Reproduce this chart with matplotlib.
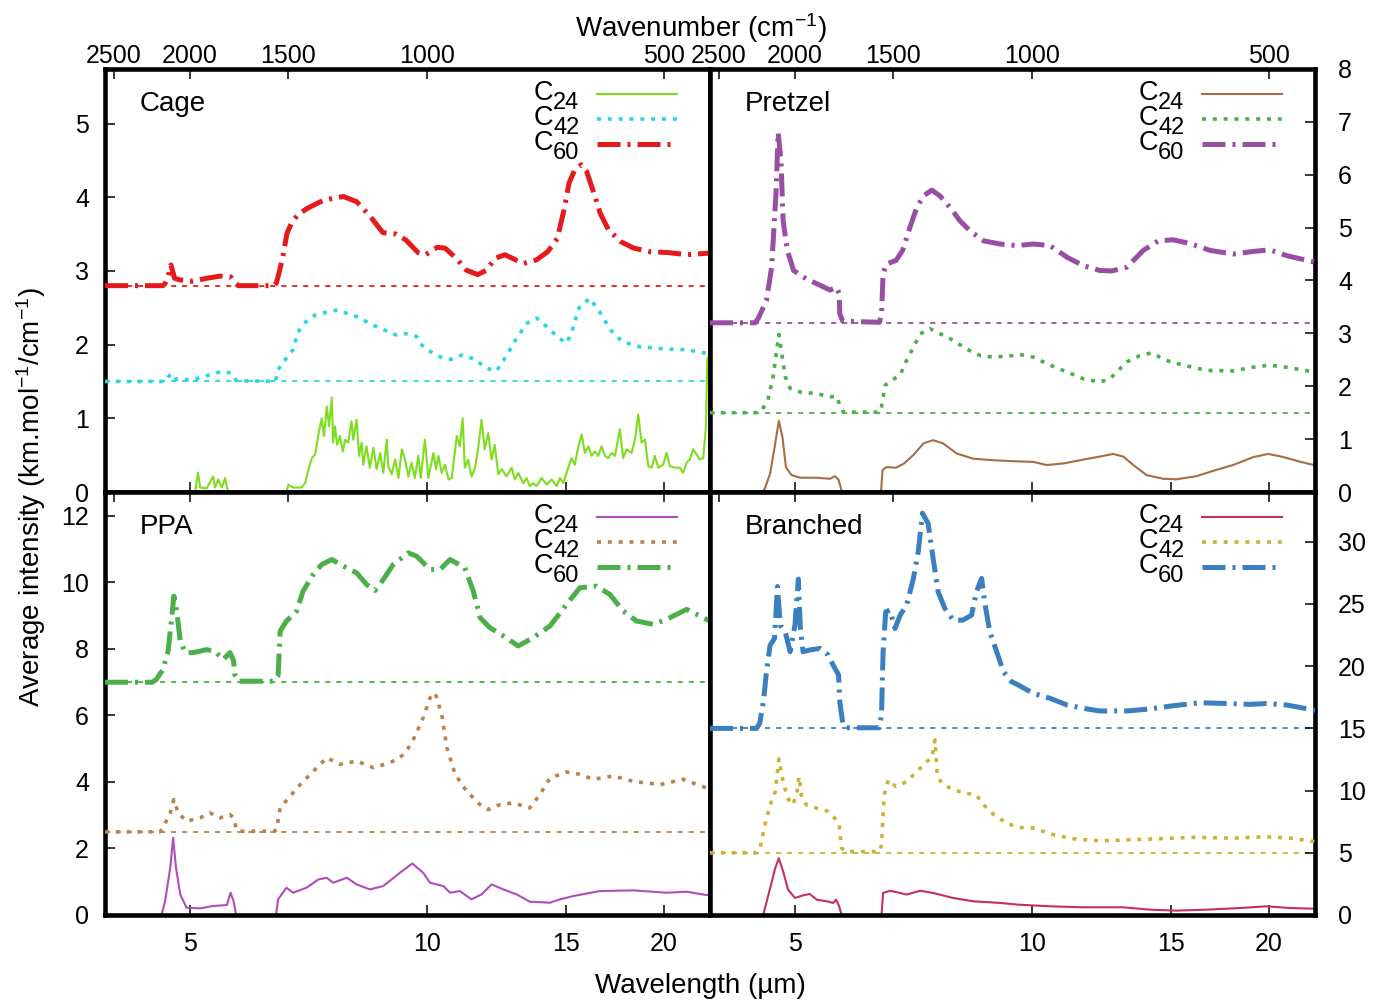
import matplotlib
matplotlib.use("Agg")
import matplotlib.pyplot as plt
from matplotlib.ticker import FixedLocator, NullLocator, FixedFormatter

plt.rcParams['font.family'] = ['Liberation Sans', 'DejaVu Sans']
plt.rcParams['mathtext.default'] = 'regular'

# ---------------- axis data ----------------
x_range = [3.9, 22.88]                     # wavelength (um), log axis
wavelength_ticks = [5, 10, 15, 20]
wavenumber_ticks = [2500, 2000, 1500, 1000, 500]
series_labels = ['24', '42', '60']

# ---------------- Cage ----------------
cage_offsets = [0.0, 1.5, 2.8]
cage_c24_wl = [3.9, 5.06, 5.08, 5.12, 5.15, 5.25, 5.35, 5.38, 5.43, 5.49, 5.54, 5.58, 5.60,
               6.63, 6.67, 6.76, 6.93, 7.00, 7.07, 7.14, 7.21, 7.28, 7.35, 7.40, 7.46, 7.51,
               7.57, 7.60, 7.64, 7.69, 7.75, 7.82, 7.87, 7.94, 8.02, 8.06, 8.14, 8.20, 8.26,
               8.30, 8.38, 8.46, 8.55, 8.63, 8.72, 8.80, 8.89, 8.93, 9.02, 9.11, 9.20, 9.29,
               9.38, 9.47, 9.56, 9.65, 9.75, 9.82, 9.94, 10.04, 10.19, 10.27, 10.34, 10.44,
               10.54, 10.65, 10.75, 10.91, 11.01, 11.10, 11.17, 11.28, 11.39, 11.50, 11.61,
               11.73, 11.84, 11.96, 12.08, 12.19, 12.32, 12.44, 12.62, 12.81, 12.93, 13.06,
               13.25, 13.38, 13.51, 13.64, 13.78, 13.98, 14.19, 14.40, 14.61, 14.75, 14.90,
               15.04, 15.26, 15.41, 15.57, 15.72, 15.87, 16.03, 16.18, 16.34, 16.50, 16.66,
               16.83, 16.99, 17.16, 17.33, 17.58, 17.75, 17.93, 18.19, 18.37, 18.55, 18.73,
               18.92, 19.10, 19.29, 19.47, 19.67, 19.95, 20.15, 20.35, 20.65, 20.95, 21.15,
               21.37, 21.57, 21.78, 22.00, 22.21, 22.43, 22.61, 22.70, 22.88]
cage_c24_val = [0, 0, 0.03, 0.26, 0.06, 0.05, 0.21, 0.06, 0.17, 0.06, 0.19, 0.03, 0,
                0, 0.10, 0.06, 0.06, 0.12, 0.30, 0.46, 0.51, 0.78, 1.00, 0.76, 1.16, 0.89,
                1.28, 0.67, 0.89, 0.64, 0.76, 0.55, 0.71, 0.67, 0.96, 0.71, 0.98, 0.49, 0.67,
                0.37, 0.62, 0.33, 0.60, 0.31, 0.53, 0.26, 0.71, 0.35, 0.24, 0.44, 0.19, 0.58,
                0.44, 0.21, 0.40, 0.19, 0.49, 0.19, 0.71, 0.19, 0.53, 0.31, 0.49, 0.26,
                0.37, 0.17, 0.19, 0.76, 0.62, 1.00, 0.33, 0.44, 0.21, 0.31, 0.58,
                0.98, 0.58, 0.80, 0.44, 0.64, 0.24, 0.31, 0.21, 0.33, 0.17, 0.26,
                0.12, 0.19, 0.08, 0.12, 0.08, 0.19, 0.10, 0.17, 0.08, 0.19, 0.12,
                0.26, 0.46, 0.37, 0.62, 0.78, 0.53, 0.62, 0.49, 0.55, 0.49, 0.62,
                0.49, 0.46, 0.53, 0.49, 0.85, 0.46, 0.58, 0.53, 0.71, 1.05, 0.67,
                0.71, 0.35, 0.33, 0.49, 0.33, 0.37, 0.53, 0.35, 0.33, 0.33, 0.26,
                0.40, 0.44, 0.58, 0.51, 0.44, 0.46, 0.89, 1.80, 1.88]
cage_c42_wl = [3.9, 4.65, 4.73, 4.80, 5.03, 5.30, 5.51, 5.65, 5.73, 6.42, 6.47, 6.61, 6.76,
               6.85, 6.98, 7.23, 7.70, 8.14, 8.60, 9.14, 9.40, 9.70, 9.79, 10.0, 10.46, 10.72,
               11.1, 11.5, 11.9, 12.25, 12.6, 13.0, 13.4, 13.78, 14.17, 14.7, 15.05, 15.3,
               15.6, 16.1, 16.6, 17.1, 17.7, 18.65, 20.2, 21.4, 22.7, 22.88]
cage_c42_val = [0, 0, 0.11, 0.03, 0.02, 0.09, 0.14, 0.11, 0.01, 0, 0.16, 0.30, 0.43,
                0.66, 0.79, 0.91, 0.97, 0.88, 0.75, 0.63, 0.65, 0.61, 0.52, 0.43, 0.32, 0.30,
                0.36, 0.30, 0.18, 0.14, 0.34, 0.59, 0.79, 0.86, 0.75, 0.59, 0.52, 0.70,
                1.00, 1.13, 0.93, 0.70, 0.54, 0.47, 0.44, 0.43, 0.38, 0.38]
cage_c60_wl = [3.9, 4.62, 4.65, 4.69, 4.73, 4.78, 4.85, 5.03, 5.25, 5.46, 5.63, 5.70, 5.76,
               6.40, 6.44, 6.50, 6.56, 6.64, 6.73, 6.85, 7.05, 7.39, 7.83, 8.14, 8.47, 8.79,
               9.14, 9.40, 9.74, 9.96, 10.3, 10.54, 10.9, 11.22, 11.6, 11.9, 12.2, 12.56,
               12.9, 13.25, 13.78, 14.23, 14.64, 14.93, 15.15, 15.4, 15.7, 15.95, 16.3,
               16.6, 17.0, 17.6, 18.3, 19.2, 20.2, 21.4, 22.7, 22.88]
cage_c60_val = [0, 0, 0.03, 0.12, 0.28, 0.10, 0.08, 0.06, 0.10, 0.13, 0.12, 0.04, 0,
                0, 0.04, 0.21, 0.39, 0.71, 0.85, 0.96, 1.05, 1.16, 1.21, 1.14, 0.94, 0.72,
                0.70, 0.62, 0.45, 0.42, 0.52, 0.51, 0.37, 0.21, 0.15, 0.21, 0.37, 0.42,
                0.36, 0.30, 0.35, 0.46, 0.64, 1.03, 1.39, 1.57, 1.64, 1.55, 1.25,
                0.98, 0.76, 0.60, 0.51, 0.46, 0.45, 0.42, 0.44, 0.44]

# ---------------- Pretzel ----------------
pretzel_offsets = [0.0, 1.5, 3.2]
pretzel_c24_wl = [3.9, 4.55, 4.58, 4.65, 4.72, 4.77, 4.82, 4.87, 4.95, 5.08, 5.33, 5.54, 5.62,
                  5.68, 5.73, 5.76, 6.43, 6.46, 6.53, 6.72, 6.88, 7.07, 7.28, 7.49, 7.71, 8.02,
                  8.42, 8.95, 9.56, 10.04, 10.44, 10.96, 11.50, 12.19, 12.68, 13.06, 13.45,
                  13.98, 14.68, 15.26, 16.18, 16.99, 18.0, 19.1, 19.95, 20.87, 21.93, 22.8, 22.88]
pretzel_c24_val = [0, 0, 0.07, 0.35, 0.92, 1.35, 1.04, 0.47, 0.32, 0.27, 0.27, 0.25, 0.30,
                   0.23, 0.03, 0, 0, 0.41, 0.47, 0.46, 0.54, 0.70, 0.92, 0.98, 0.92, 0.73,
                   0.63, 0.60, 0.58, 0.57, 0.51, 0.54, 0.60, 0.67, 0.72, 0.67, 0.51,
                   0.32, 0.25, 0.24, 0.30, 0.40, 0.51, 0.66, 0.72, 0.66, 0.57, 0.51, 0.50]
pretzel_c42_wl = [3.9, 4.50, 4.54, 4.62, 4.69, 4.74, 4.77, 4.81, 4.86, 4.93, 5.08, 5.33, 5.54,
                  5.65, 5.70, 5.76, 6.40, 6.44, 6.51, 6.63, 6.80, 6.93, 7.07, 7.21, 7.42, 7.65,
                  7.94, 8.24, 8.60, 8.95, 9.47, 9.65, 10.04, 10.54, 11.08, 11.62, 12.19, 12.56,
                  13.19, 13.71, 14.19, 14.8, 15.56, 16.67, 18.0, 19.1, 20.05, 21.27, 22.8, 22.88]
pretzel_c42_val = [0, 0, 0.05, 0.24, 0.68, 1.18, 1.48, 1.12, 0.68, 0.46, 0.39, 0.36, 0.30,
                   0.31, 0.14, 0.01, 0.01, 0.11, 0.52, 0.61, 0.71, 0.99, 1.24, 1.49, 1.59, 1.49,
                   1.37, 1.21, 1.08, 1.05, 1.08, 1.10, 1.05, 0.90, 0.77, 0.64, 0.58, 0.64,
                   0.96, 1.08, 1.13, 0.99, 0.90, 0.80, 0.79, 0.86, 0.90, 0.85, 0.77, 0.76]
pretzel_c60_wl = [3.9, 4.45, 4.49, 4.60, 4.67, 4.73, 4.76, 4.80, 4.83, 4.89, 4.98, 5.17, 5.38,
                  5.54, 5.65, 5.69, 5.70, 5.75, 6.40, 6.44, 6.47, 6.53, 6.72, 6.85, 7.00, 7.14,
                  7.28, 7.46, 7.64, 7.87, 8.10, 8.34, 8.68, 9.11, 9.56, 10.04, 10.54, 11.08,
                  11.62, 12.19, 12.62, 13.19, 13.85, 14.47, 15.11, 15.87, 16.83, 18.0, 19.1,
                  20.05, 21.07, 22.8, 22.88]
pretzel_c60_val = [0, 0, 0.08, 0.42, 1.05, 2.44, 3.60, 3.06, 1.93, 1.37, 0.99, 0.83, 0.71,
                   0.62, 0.67, 0.55, 0.17, 0.03, 0.01, 0.14, 0.93, 1.11, 1.18, 1.37, 1.81, 2.18,
                   2.40, 2.51, 2.40, 2.18, 1.93, 1.74, 1.55, 1.49, 1.46, 1.49, 1.46, 1.24,
                   1.08, 0.99, 0.98, 1.05, 1.37, 1.55, 1.57, 1.50, 1.37, 1.30, 1.35,
                   1.38, 1.27, 1.15, 1.14]

# ---------------- PPA ----------------
ppa_offsets = [0.0, 2.5, 7.0]
ppa_c24_wl = [3.9, 4.60, 4.65, 4.72, 4.76, 4.80, 4.86, 4.95, 5.15, 5.35, 5.57, 5.63, 5.68,
              5.72, 5.75, 6.43, 6.47, 6.63, 6.76, 7.03, 7.28, 7.46, 7.60, 7.91, 8.14, 8.46,
              8.80, 9.24, 9.58, 9.89, 10.09, 10.49, 10.70, 11.01, 11.39, 11.73, 12.08, 12.50,
              13.0, 13.51, 14.33, 14.75, 15.34, 16.58, 18.28, 20.15, 21.37, 22.65, 22.88]
ppa_c24_val = [0, 0, 0.42, 1.42, 2.32, 1.42, 0.62, 0.22, 0.20, 0.27, 0.30, 0.67, 0.42,
               0.02, 0, 0, 0.47, 0.82, 0.67, 0.82, 1.07, 1.12, 0.97, 1.12, 0.92, 0.77,
               0.87, 1.27, 1.55, 1.27, 0.97, 0.87, 0.67, 0.72, 0.47, 0.62, 0.92, 0.77,
               0.62, 0.40, 0.37, 0.47, 0.57, 0.72, 0.74, 0.67, 0.70, 0.60, 0.60]
ppa_c42_wl = [3.9, 4.58, 4.62, 4.72, 4.77, 4.83, 4.95, 5.15, 5.30, 5.46, 5.62, 5.68, 5.73,
              5.78, 6.40, 6.44, 6.51, 6.70, 6.90, 7.17, 7.46, 7.75, 8.14, 8.55, 8.97, 9.24,
              9.42, 9.61, 9.89, 10.09, 10.24, 10.44, 10.60, 10.86, 11.23, 11.68, 11.96,
              12.38, 12.87, 13.51, 13.91, 14.33, 15.04, 15.64, 16.26, 17.24, 18.28, 19.76,
              21.15, 22.65, 22.88]
ppa_c42_val = [0, 0, 0.12, 0.57, 0.97, 0.57, 0.32, 0.42, 0.57, 0.42, 0.52, 0.42, 0.07,
               0.02, 0.02, 0.07, 0.72, 1.07, 1.42, 1.82, 2.23, 2.03, 2.13, 1.93, 2.08, 2.23,
               2.43, 2.78, 3.43, 4.03, 4.18, 3.53, 2.53, 1.73, 1.22, 0.82, 0.67,
               0.82, 0.87, 0.72, 1.12, 1.62, 1.80, 1.73, 1.58, 1.68, 1.52, 1.42,
               1.58, 1.32, 1.30]
ppa_c60_wl = [3.9, 4.48, 4.53, 4.62, 4.69, 4.74, 4.77, 4.81, 4.86, 4.93, 5.05, 5.25, 5.38,
              5.51, 5.62, 5.68, 5.70, 5.76, 6.38, 6.47, 6.51, 6.63, 6.83, 6.96, 7.17, 7.35,
              7.57, 7.83, 8.14, 8.38, 8.59, 8.80, 9.06, 9.47, 9.70, 10.09, 10.39, 10.70,
              11.17, 11.45, 11.68, 12.02, 12.50, 13.06, 13.64, 14.33, 15.04, 15.64, 16.42,
              17.07, 17.75, 18.46, 19.38, 20.15, 21.37, 22.65, 22.88]
ppa_c60_val = [0, 0, 0.08, 0.38, 0.93, 1.94, 2.59, 2.14, 1.24, 0.89, 0.89, 0.98, 0.93,
               0.68, 0.89, 0.65, 0.23, 0.03, 0.03, 0.20, 1.54, 1.84, 2.14, 2.74, 3.24, 3.54,
               3.69, 3.49, 3.29, 2.94, 2.76, 3.09, 3.54, 3.89, 3.79, 3.39, 3.39, 3.69,
               3.44, 2.74, 1.94, 1.64, 1.39, 1.09, 1.34, 1.69, 2.34, 2.84, 2.89,
               2.64, 2.14, 1.84, 1.74, 1.89, 2.19, 1.89, 1.85]

# ---------------- Branched ----------------
branched_offsets = [0.0, 5.0, 15.0]
branched_c24_wl = [3.9, 4.53, 4.56, 4.65, 4.72, 4.77, 4.83, 4.90, 5.00, 5.12, 5.22, 5.33, 5.49,
                   5.59, 5.64, 5.69, 5.73, 5.76, 6.44, 6.47, 6.60, 6.80, 6.93, 7.21, 7.49, 7.94,
                   8.42, 9.11, 9.61, 10.54, 11.62, 13.06, 14.12, 15.26, 16.67, 18.37, 19.86,
                   21.27, 22.8, 22.88]
branched_c24_val = [0, 0, 0.07, 2.17, 3.77, 4.57, 3.50, 2.04, 1.37, 1.58, 1.69, 1.23, 1.10,
                    0.97, 1.23, 0.70, 0.03, 0, 0, 1.77, 1.95, 1.77, 1.64, 1.95, 1.77, 1.37,
                    1.10, 0.97, 0.83, 0.70, 0.62, 0.62, 0.43, 0.35, 0.43, 0.56, 0.70,
                    0.56, 0.51, 0.50]
branched_c42_wl = [3.9, 4.47, 4.51, 4.58, 4.65, 4.72, 4.77, 4.82, 4.89, 4.97, 5.03, 5.06, 5.10,
                   5.17, 5.33, 5.49, 5.62, 5.69, 5.73, 5.80, 6.40, 6.44, 6.49, 6.57, 6.72, 6.93,
                   7.14, 7.35, 7.46, 7.53, 7.58, 7.68, 7.94, 8.24, 8.50, 8.68, 8.95, 9.29, 9.61,
                   10.04, 10.65, 11.28, 12.19, 13.19, 14.54, 16.03, 18.0, 19.86, 21.27, 22.8, 22.88]
branched_c42_val = [0, 0, 0.24, 2.25, 3.85, 4.92, 7.54, 6.00, 4.40, 3.85, 4.92, 6.12, 4.40,
                    3.85, 3.58, 3.37, 2.78, 2.25, 0.38, 0.10, 0.10, 0.64, 4.65, 5.86, 5.32, 5.72,
                    6.53, 7.33, 7.60, 9.07, 6.25, 5.58, 5.06, 4.79, 4.65, 3.85, 3.05, 2.38, 2.03,
                    1.99, 1.45, 1.13, 0.96, 1.04, 1.13, 1.24, 1.18, 1.29, 1.18, 0.91, 0.90]
branched_c60_wl = [3.9, 4.47, 4.51, 4.56, 4.60, 4.65, 4.71, 4.75, 4.79, 4.86, 4.93, 5.00, 5.05,
                   5.08, 5.12, 5.22, 5.38, 5.51, 5.59, 5.68, 5.70, 5.75, 5.82, 6.40, 6.44, 6.47,
                   6.52, 6.60, 6.70, 6.80, 6.93, 7.07, 7.17, 7.26, 7.38, 7.49, 7.60, 7.75, 7.94,
                   8.17, 8.38, 8.50, 8.63, 8.71, 8.84, 9.02, 9.20, 9.42, 9.61, 10.04, 10.54,
                   11.08, 11.62, 12.19, 13.19, 14.12, 15.11, 16.34, 17.67, 18.92, 19.86, 21.07,
                   22.8, 22.88]
branched_c60_val = [0, 0, 0.41, 2.15, 4.55, 6.69, 7.23, 11.4, 8.30, 7.76, 6.16, 8.30, 12.0,
                    8.03, 6.16, 6.30, 6.43, 5.90, 5.09, 4.30, 2.15, 0.41, 0.05, 0.05, 1.08, 6.16,
                    9.37, 9.50, 8.03, 9.10, 9.91, 12.05, 14.18, 17.3, 16.47, 13.65, 10.97, 9.64,
                    8.70, 8.70, 9.10, 10.97, 12.05, 10.10, 7.76, 6.16, 4.55, 3.75, 3.48, 2.82,
                    2.42, 1.88, 1.61, 1.40, 1.40, 1.56, 1.82, 2.06, 2.00, 1.93, 2.00, 1.88,
                    1.47, 1.45]

# ---------------- styles ----------------
panel_titles = ['Cage', 'Pretzel', 'PPA', 'Branched']
panel_colors = [['#7fdd20', '#27d7e0', '#e41a1c'],
                ['#a66d45', '#4daf4a', '#984ea3'],
                ['#b04dbb', '#b8824e', '#4daf4a'],
                ['#c4305e', '#c9b234', '#3a80c0']]
panel_ylims = [(0, 5.74), (0, 8.0), (0, 12.72), (0, 34.0)]
panel_yticks = [[0, 1, 2, 3, 4, 5], [0, 1, 2, 3, 4, 5, 6, 7, 8],
                [0, 2, 4, 6, 8, 10, 12], [0, 5, 10, 15, 20, 25, 30]]

line_styles = [dict(lw=1.5, ls='-'),
               dict(lw=2.6, ls=(0, (1.1, 1.9)), dash_capstyle='butt'),
               dict(lw=3.6, ls=(0, (4.6, 1.4, 0.6, 1.4)), dash_capstyle='butt')]

W, H = 1391, 1007
fig = plt.figure(figsize=(W / 100, H / 100), dpi=100)

def fx(px):
    return px / W

def fy(py):
    return 1 - py / H

boxes = [(105, 69, 710, 492), (710, 69, 1315, 492), (105, 492, 710, 915), (710, 492, 1315, 915)]

panels = [
    (cage_offsets, [(cage_c24_wl, cage_c24_val), (cage_c42_wl, cage_c42_val), (cage_c60_wl, cage_c60_val)]),
    (pretzel_offsets, [(pretzel_c24_wl, pretzel_c24_val), (pretzel_c42_wl, pretzel_c42_val), (pretzel_c60_wl, pretzel_c60_val)]),
    (ppa_offsets, [(ppa_c24_wl, ppa_c24_val), (ppa_c42_wl, ppa_c42_val), (ppa_c60_wl, ppa_c60_val)]),
    (branched_offsets, [(branched_c24_wl, branched_c24_val), (branched_c42_wl, branched_c42_val), (branched_c60_wl, branched_c60_val)]),
]

TICK_FS = 18
for k, (box, (offsets, series)) in enumerate(zip(boxes, panels)):
    x0, y0, x1, y1 = box
    ax = fig.add_axes([fx(x0), fy(y1), fx(x1 - x0), (y1 - y0) / H])
    top = ax.twiny()
    right_side = (k % 2 == 1)
    is_top = (k < 2)
    colors = panel_colors[k]

    # baselines
    for j in (1, 2):
        ax.axhline(offsets[j], color=colors[j], lw=1.3, ls=(0, (2.8, 3.3)), zorder=1)
    # curves
    for j, (wl, val) in enumerate(series):
        ax.plot(wl, [v + offsets[j] for v in val], color=colors[j], zorder=2 + j,
                **line_styles[j])

    ax.set_xscale('log')
    ax.set_xlim(*x_range)
    ax.set_ylim(*panel_ylims[k])
    ax.xaxis.set_major_locator(FixedLocator(wavelength_ticks))
    ax.xaxis.set_major_formatter(FixedFormatter([str(t) for t in wavelength_ticks]))
    ax.xaxis.set_minor_locator(NullLocator())
    ax.set_yticks(panel_yticks[k])
    ax.set_yticklabels([str(t) for t in panel_yticks[k]])
    ax.yaxis.set_minor_locator(NullLocator())

    top.set_xscale('log')
    top.set_xlim(*x_range)
    top.xaxis.set_major_locator(FixedLocator([1e4 / w for w in wavenumber_ticks]))
    top.xaxis.set_major_formatter(FixedFormatter([str(w) for w in wavenumber_ticks]))
    top.xaxis.set_minor_locator(NullLocator())

    ax.tick_params(axis='x', which='both', direction='in', length=7, width=1.1,
                   bottom=True, top=False, labelbottom=not is_top, labeltop=False,
                   labelsize=TICK_FS, pad=12.5)
    ax.tick_params(axis='y', which='both', direction='in', length=7, width=1.1,
                   left=not right_side, right=right_side,
                   labelleft=not right_side, labelright=right_side,
                   labelsize=TICK_FS, pad=(11.5 if not right_side else 16.5))
    top.tick_params(axis='x', which='both', direction='in', length=7, width=1.1,
                    top=True, bottom=False, labeltop=is_top, labelbottom=False,
                    labelsize=TICK_FS, pad=1)
    for s in ax.spines.values():
        s.set_linewidth(3.3)
    for s in top.spines.values():
        s.set_visible(False)

    ax.text(0.057, 0.90, panel_titles[k], transform=ax.transAxes, ha='left',
            va='baseline', fontsize=20)

    # legend (gnuplot style: label then sample)
    for j in range(3):
        yf = 0.942 - j * 0.060
        ax.plot([0.8127, 0.945], [yf, yf], transform=ax.transAxes, color=colors[j],
                clip_on=False, zorder=6, **line_styles[j])
        ax.annotate(series_labels[j], xy=(0.784, yf), xycoords='axes fraction',
                    xytext=(0, -10.8), textcoords='offset points', ha='right',
                    va='baseline', fontsize=17)
        ax.annotate('C', xy=(0.784, yf), xycoords='axes fraction',
                    xytext=(-18.6, -4.3), textcoords='offset points', ha='right',
                    va='baseline', fontsize=19.5)

fig.text(fx(700), fy(993), 'Wavelength (µm)', ha='center', va='baseline', fontsize=20)
fig.text(fx(701), fy(37), 'Wavenumber (cm$^{-1}$)', ha='center', va='baseline', fontsize=20)
fig.text(fx(31), fy(497), 'Average intensity (km.mol$^{-1}$/cm$^{-1}$)', ha='center',
         va='center', rotation=90, fontsize=20)

fig.savefig('out.png', dpi=100)
